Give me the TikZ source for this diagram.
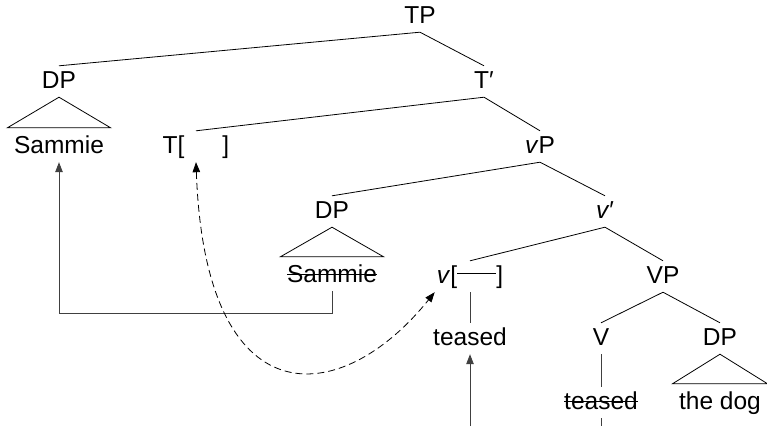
\documentclass[tikz,border=0pt]{standalone}
\usepackage{fontspec}
\setmainfont{Liberation Sans}
\usetikzlibrary{arrows.meta}
\newcommand\strk[1]{\setbox0\hbox{#1}\rlap{\rule[0.28em]{\wd0}{1.1pt}}#1}
\begin{document}
\begin{tikzpicture}[x=1pt,y=-1pt,
  lab/.style={font=\fontsize{24.5}{28}\selectfont, inner xsep=2pt, inner ysep=5pt,
    text height=17pt, text depth=4pt, anchor=base},
  tri/.style={lab, inner xsep=6.5pt},
  edge/.style={draw=black, line width=0.8pt},
  mv/.style={draw=black!75, line width=0.9pt},
  tip/.style={-{Triangle[length=10pt,width=7.5pt]}},
]
\useasboundingbox (0,0) rectangle (767,426);
% nodes
\node[lab] (TP) at (420,23) {TP};
\node[lab] (DP1) at (59,88) {DP};
\node[lab] (Tbar) at (484,88) {T′};
\node[tri] (Sam1) at (59,153) {Sammie};
\node[lab] (T) at (196,153) {T[\hspace{1.55em}]};
\node[lab] (vP) at (540,153) {\textit{v}P};
\node[lab] (DP2) at (332,218) {DP};
\node[lab] (vbar) at (605,218) {\textit{v}′};
\node[tri] (Sam2) at (332,282) {\strk{Sammie}};
\node[lab] (v) at (470,283) {\textit{v}[\rule[0.37em]{1.6em}{1.3pt}]};
\node[lab] (VP) at (663,283) {VP};
\node[lab] (teased) at (470,345) {teased};
\node[lab] (V) at (601,345) {V};
\node[lab] (DP3) at (720,345) {DP};
\node[lab] (teased2) at (601,409) {\strk{teased}};
\node[tri] (dog) at (720,409) {the dog};
\coordinate (bot1) at (601,426);
\coordinate (bot2) at (470,426);
\coordinate (c1) at (332,313);
\coordinate (c2) at (59,313);
% tree edges
\path[edge] (TP.south) -- (DP1.north);
\path[edge] (TP.south) -- (Tbar.north);
\path[edge] (Tbar.south) -- (T.north);
\path[edge] (Tbar.south) -- (vP.north);
\path[edge] (vP.south) -- (DP2.north);
\path[edge] (vP.south) -- (vbar.north);
\path[edge] (vbar.south) -- (v.north);
\path[edge] (vbar.south) -- (VP.north);
\path[edge] (VP.south) -- (V.north);
\path[edge] (VP.south) -- (DP3.north);
% triangles
\path[edge] (DP1.south) -- ([yshift=3pt]Sam1.north west) -- ([yshift=3pt]Sam1.north east) -- cycle;
\path[edge] (DP2.south) -- ([yshift=3pt]Sam2.north west) -- ([yshift=3pt]Sam2.north east) -- cycle;
\path[edge] (DP3.south) -- ([yshift=3pt]dog.north west) -- ([yshift=3pt]dog.north east) -- cycle;
% head lines
\path[mv] (v.south) -- (teased.north);
\path[mv] (V.south) -- (teased2.north);
\path[mv] (teased2.south) -- (bot1);
% movement arrows
\path[mv,tip] (bot2) -- (teased.south);
\path[mv,tip] (Sam2.south) -- (c1) -- (c2) -- (Sam1.south);
\draw[black, line width=0.8pt, dashed, dash pattern=on 7pt off 4pt,
  {Triangle[length=10pt,width=7.5pt]}-{Triangle[length=10pt,width=7.5pt]}]
  (T.south) .. controls (205,420) and (340,410) .. (v.south west);
\end{tikzpicture}
\end{document}
